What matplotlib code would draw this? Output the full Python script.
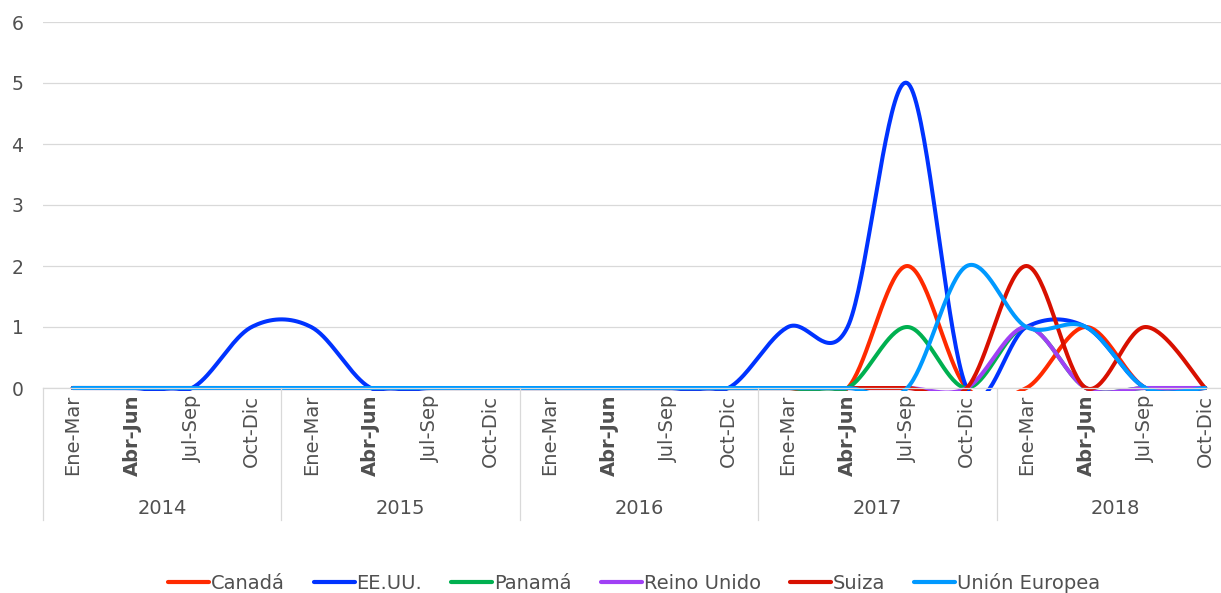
import numpy as np
import matplotlib
matplotlib.use("Agg")
import matplotlib.pyplot as plt
from matplotlib.patches import Rectangle
from matplotlib.transforms import blended_transform_factory

years = ["2014", "2015", "2016", "2017", "2018"]
quarters = ["Ene-Mar", "Abr-Jun", "Jul-Sep", "Oct-Dic"]

canada = [0, 0, 0, 0, 0, 0, 0, 0, 0, 0, 0, 0, 0, 0, 2, 0, 0, 1, 0, 0]
eeuu = [0, 0, 0, 1, 1, 0, 0, 0, 0, 0, 0, 0, 1, 1, 5, 0, 1, 1, 0, 0]
panama = [0, 0, 0, 0, 0, 0, 0, 0, 0, 0, 0, 0, 0, 0, 1, 0, 1, 0, 0, 0]
reino_unido = [0, 0, 0, 0, 0, 0, 0, 0, 0, 0, 0, 0, 0, 0, 0, 0, 1, 0, 0, 0]
suiza = [0, 0, 0, 0, 0, 0, 0, 0, 0, 0, 0, 0, 0, 0, 0, 0, 2, 0, 1, 0]
union_europea = [0, 0, 0, 0, 0, 0, 0, 0, 0, 0, 0, 0, 0, 0, 0, 2, 1, 1, 0, 0]

series = [
    ("Canadá", canada, "#ff2a00"),
    ("EE.UU.", eeuu, "#0033ff"),
    ("Panamá", panama, "#00b050"),
    ("Reino Unido", reino_unido, "#a040f5"),
    ("Suiza", suiza, "#d81000"),
    ("Unión Europea", union_europea, "#0099ff"),
]

TEXT = "#505050"
GRID = "#d9d9d9"


def smooth(xs, ys, steps=40):
    # Catmull-Rom style bezier smoothing, like spreadsheet "smoothed lines"
    p = np.column_stack([xs, ys]).astype(float)
    p = np.vstack([p[0], p, p[-1]])
    out = []
    t = np.linspace(0, 1, steps)[:, None]
    for i in range(1, len(p) - 2):
        p0, p1, p2, p3 = p[i - 1], p[i], p[i + 1], p[i + 2]
        c1 = p1 + (p2 - p0) / 6
        c2 = p2 - (p3 - p1) / 6
        seg = ((1 - t) ** 3) * p1 + 3 * ((1 - t) ** 2) * t * c1 + 3 * (1 - t) * t ** 2 * c2 + t ** 3 * p2
        out.append(seg if i == 1 else seg[1:])
    out = np.vstack(out)
    return out[:, 0], out[:, 1]


plt.rcParams["font.family"] = "DejaVu Sans"
fig = plt.figure(figsize=(12.21, 5.93), dpi=100)
# plot area runs slightly past the right edge of the canvas
ax = fig.add_axes([43 / 1221, 205 / 593, 1192 / 1221, 366 / 593])

n = len(years) * len(quarters)
x = np.arange(n)

clip = Rectangle((0, -0.008), 1, 1.008, transform=ax.transAxes, facecolor="none")
ax.add_patch(clip)
clip.set_visible(False)

for name, vals, color in series:
    sx, sy = smooth(x, vals)
    line, = ax.plot(sx, sy, color=color, lw=2.9, label=name, solid_capstyle="round")
    line.set_clip_path(clip)

ax.set_xlim(-0.5, n - 0.5)
ax.set_ylim(0, 6)
ax.set_yticks(range(0, 7))
ax.yaxis.grid(True, color=GRID, lw=0.9)
ax.set_axisbelow(True)
for s in ["top", "right", "left"]:
    ax.spines[s].set_visible(False)
ax.spines["bottom"].set_color(GRID)
ax.spines["bottom"].set_linewidth(0.9)

ax.tick_params(axis="y", length=0, pad=14, labelsize=13.5, labelcolor=TEXT)
ax.set_xticks(x)
ax.set_xticklabels(quarters * len(years), rotation=90, fontsize=14, color=TEXT)
ax.tick_params(axis="x", length=0, pad=5)
for lbl in ax.get_xticklabels():
    if lbl.get_text() == "Abr-Jun":
        lbl.set_fontweight("bold")

# year groups under the quarter labels
trans = blended_transform_factory(ax.transData, ax.transAxes)
for i, yr in enumerate(years):
    ax.text(i * 4 + 1.5, -0.328, yr, transform=trans, ha="center", va="center",
            fontsize=14, color=TEXT)
for k in range(len(years) + 1):
    ax.plot([k * 4 - 0.5] * 2, [0, -0.36], transform=trans, color=GRID, lw=0.9,
            clip_on=False)

leg = fig.legend(loc="center", bbox_to_anchor=(634 / 1221, 10 / 593), ncol=6,
                 frameon=False, fontsize=14, handlelength=2.1, handletextpad=0.1,
                 columnspacing=1.5)
for t in leg.get_texts():
    t.set_color(TEXT)
for h in leg.get_lines():
    h.set_linewidth(3)

fig.savefig("out.png", dpi=100)
